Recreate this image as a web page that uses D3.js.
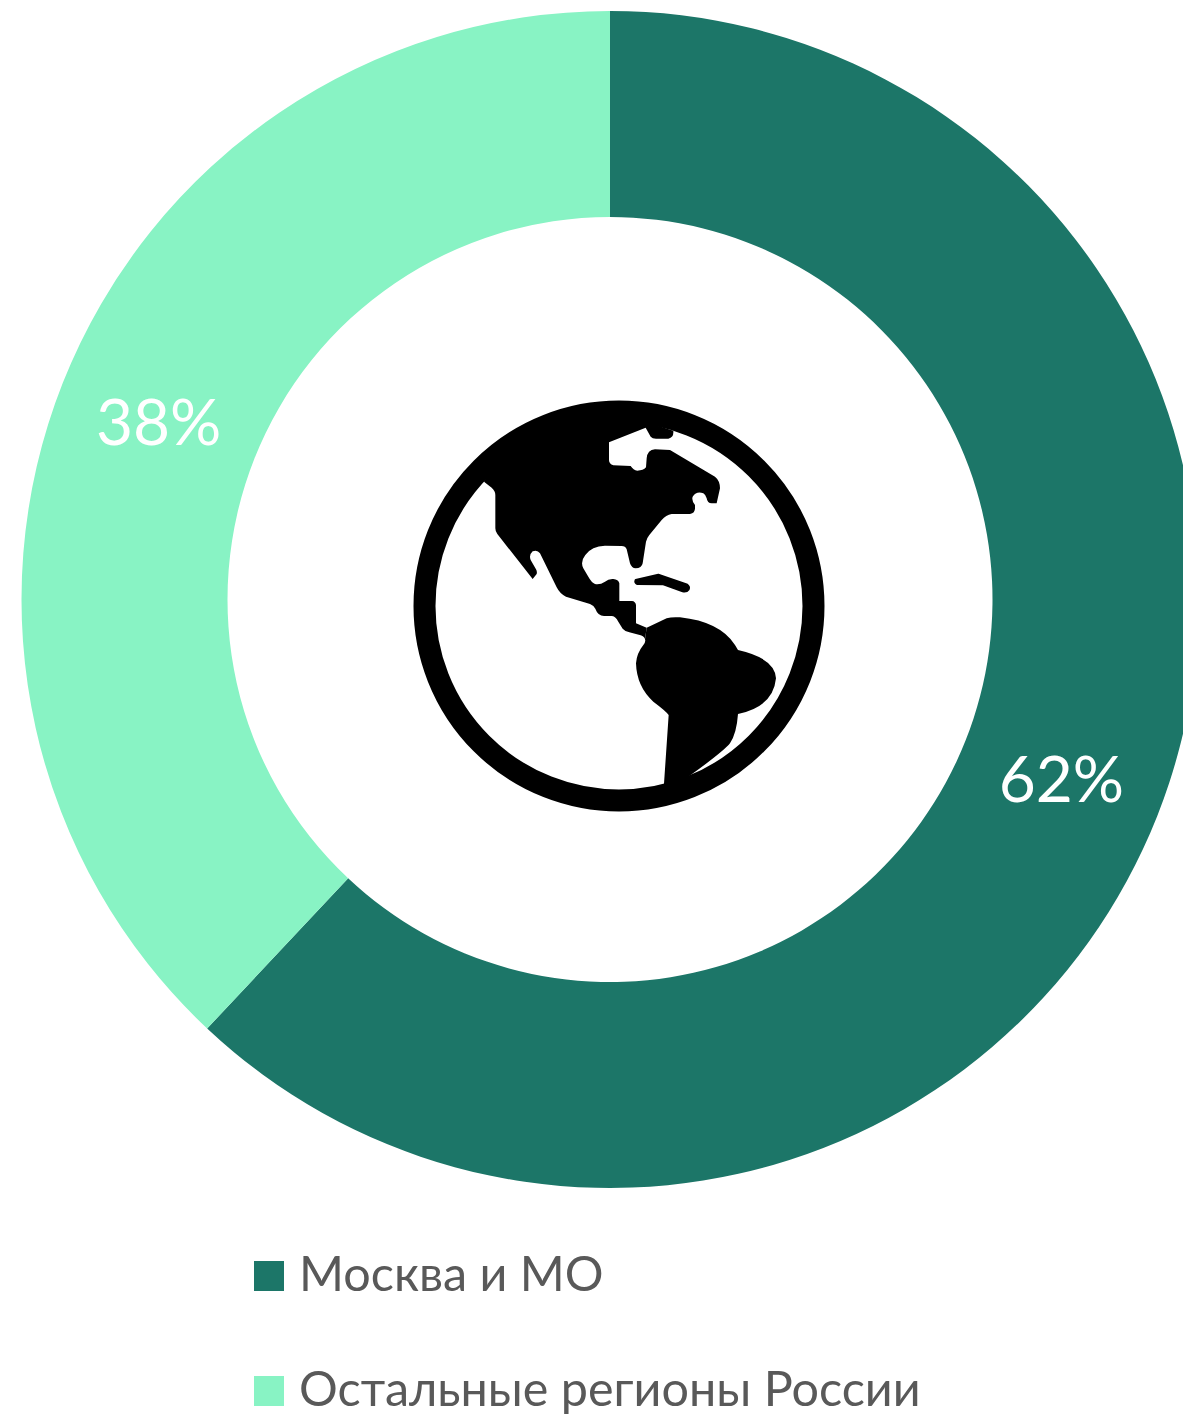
<!DOCTYPE html>
<html lang="ru">
<head>
<meta charset="utf-8">
<script src="https://cdn.jsdelivr.net/npm/d3@7"></script>
<style>
html,body{margin:0;padding:0;background:#fff;overflow:hidden}
svg{display:block}
text{font-family:Lato,"Open Sans",sans-serif}
</style>
</head>
<body>
<div id="chart"></div>
<script>
const categories = ["Москва и МО", "Остальные регионы России"];
const shares = [62, 38];
const colors = ["#1C7668", "#88F3C4"];

const W = 1183, H = 1416;
const cx = 610, cy = 599.5, rOuter = 588.5, rInner = 382.5;

const svg = d3.select("#chart").append("svg").attr("width", W).attr("height", H);
const color = d3.scaleOrdinal(categories, colors);

const pie = d3.pie().sort(null).value((d, i) => shares[i]);
const arc = d3.arc().innerRadius(rInner).outerRadius(rOuter);
const slices = pie(categories);

const g = svg.append("g").attr("transform", `translate(${cx},${cy})`);
g.selectAll("path.slice").data(slices).join("path")
  .attr("class", "slice")
  .attr("d", arc)
  .attr("fill", d => color(d.data));

g.selectAll("text.pct").data(slices).join("text")
  .attr("class", "pct")
  .attr("transform", d => { const c = arc.centroid(d); return `translate(${c[0]},${c[1] + 24}) scale(1.015,1)`; })
  .attr("text-anchor", "middle")
  .attr("font-size", 63)
  .attr("fill", "#fff")
  .text(d => `${d.value}%`);

// Globe icon, outline traced in the coordinate system of the icon (centre 657,648)
const globe = svg.append("g").attr("transform", "translate(400,390) scale(0.33333)");
globe.append("circle").attr("cx", 657).attr("cy", 648).attr("r", 583.5)
  .attr("fill", "none").attr("stroke", "#000").attr("stroke-width", 66);
globe.append("path").attr("fill", "#000").attr("d",
  "M252,275 L275,293 Q286,303 286,315 L286,415 Q286,425 292,432 L398,567 L410,552 Q412,545 408,538 L392,510 Q386,495 398,484 Q412,478 420,490 L470,592 Q480,612 498,620 L570,642 Q582,647 586,656 Q594,678 612,678 L636,678 Q648,680 654,694 L668,716 Q676,725 688,727 L722,736 Q734,740 735,748 L740,713 L708,700 L708,645 Q706,634 696,633 L658,633 L658,580 Q655,568 640,567 Q625,566 615,575 Q600,585 585,582 Q575,578 565,560 L550,535 Q540,515 556,495 Q575,468 615,467 L665,468 Q676,468 680,478 L690,520 Q695,535 707,535 Q725,535 728,520 L738,455 Q740,445 748,435 L785,390 Q798,375 815,372 L870,372 Q885,370 885,355 L885,345 Q874,332 878,320 Q890,302 910,310 Q918,315 920,325 Q922,340 935,340 L950,340 L960,295 Q960,272 945,260 L810,180 L765,178 Q742,180 740,205 L738,232 Q730,242 712,242 Q700,240 692,228 L640,226 Q627,222 627,210 L627,157 L737,113 L752,140 Q757,146 768,146 L805,146 Q822,143 820,122 L657,70 L450,100 L300,190 Z");
globe.append("path").attr("fill", "#000").attr("d",
  "M735,748 L740,713 L800,685 Q815,680 840,682 Q960,695 1005,765 L1014,780 Q1125,805 1128,865 Q1120,950 1014,972 Q1010,1030 990,1060 Q970,1085 865,1160 L840,1220 L790,1220 L792,1181 L806,975 Q800,965 760,935 Q710,890 708,820 Q710,790 730,765 Q738,755 735,748 Z");
globe.append("path").attr("fill", "#000").attr("stroke", "#000").attr("stroke-width", 6)
  .attr("stroke-linejoin", "round")
  .attr("d", "M707,570 L775,554 L860,583 Q870,590 866,598 Q860,607 848,604 L790,583 L712,582 Q703,578 707,570 Z");

// Legend
const legendY = d3.scalePoint().domain(categories).range([1276, 1391]);
const legend = svg.selectAll("g.legend").data(categories).join("g")
  .attr("class", "legend")
  .attr("transform", d => `translate(254,${legendY(d)})`);
legend.append("rect").attr("y", -15).attr("width", 30).attr("height", 30).attr("fill", d => color(d));
legend.append("text")
  .attr("transform", "translate(45,15) scale(1.01,1)")
  .attr("font-size", 48)
  .attr("fill", "#595959")
  .text(d => d);
</script>
</body>
</html>
